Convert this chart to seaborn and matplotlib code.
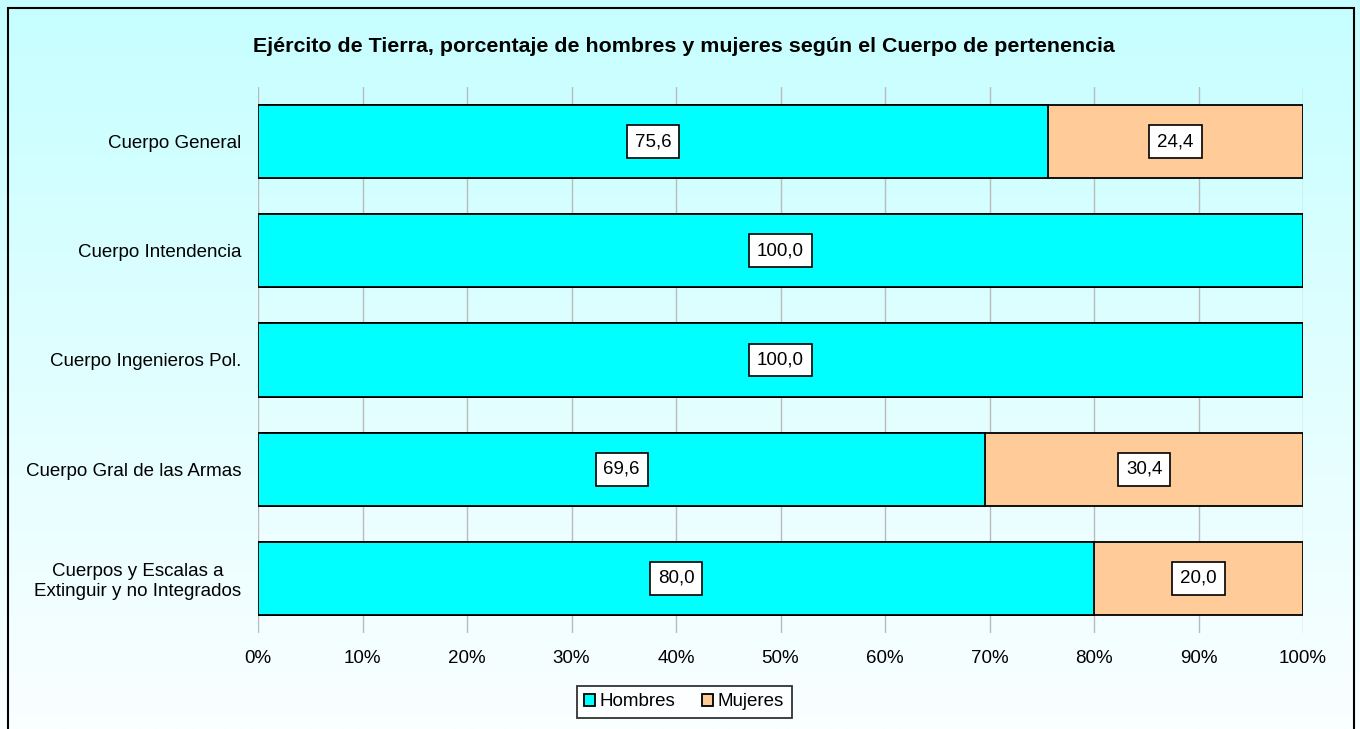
import numpy as np
import pandas as pd
import seaborn as sns
import matplotlib.pyplot as plt
from matplotlib.patches import Rectangle, Patch

# Data
categorias = ['Cuerpo General', 'Cuerpo Intendencia', 'Cuerpo Ingenieros Pol.',
              'Cuerpo Gral de las Armas', 'Cuerpos y Escalas a\nExtinguir y no Integrados']
hombres = [75.6, 100.0, 100.0, 69.6, 80.0]
mujeres = [24.4, 0.0, 0.0, 30.4, 20.0]
ticks_x = [0, 10, 20, 30, 40, 50, 60, 70, 80, 90, 100]

color_h = '#00FFFF'
color_m = '#FFCC99'

df = pd.DataFrame({'Cuerpo': categorias, 'Hombres': hombres, 'Mujeres': mujeres})
df['Total'] = df['Hombres'] + df['Mujeres']

sns.set_style('white')
plt.rcParams['font.family'] = ['Liberation Sans', 'DejaVu Sans']
plt.rcParams['text.color'] = 'black'
plt.rcParams['xtick.color'] = 'black'
plt.rcParams['ytick.color'] = 'black'

fig = plt.figure(figsize=(13.6, 7.29), dpi=100)

# gradient background
bg = fig.add_axes([0, 0, 1, 1], zorder=-10)
grad = np.linspace(0, 1, 256).reshape(-1, 1)
cmap = plt.matplotlib.colors.LinearSegmentedColormap.from_list('bg', ['#C6FEFF', '#FAFFFF'])
bg.imshow(grad, aspect='auto', cmap=cmap, extent=[0, 1, 0, 1], origin='upper')
bg.axis('off')
fig.patches.append(Rectangle((8 / 1360, -0.05), 1346 / 1360, 1.05 - 8 / 729,
                             transform=fig.transFigure, fill=False,
                             edgecolor='black', linewidth=1.5, zorder=5))

ax = fig.add_axes([258 / 1360, 96 / 729, 1045 / 1360, 546 / 729])
ax.patch.set_alpha(0)

sns.barplot(data=df, y='Cuerpo', x='Total', color=color_m, orient='h',
            edgecolor='black', linewidth=1.3, width=0.67, saturation=1, ax=ax)
sns.barplot(data=df, y='Cuerpo', x='Hombres', color=color_h, orient='h',
            edgecolor='black', linewidth=1.3, width=0.67, saturation=1, ax=ax)

box = dict(boxstyle='square,pad=0.42', facecolor='white', edgecolor='black', linewidth=1.2)
for i, (h, m) in enumerate(zip(hombres, mujeres)):
    ax.text(h / 2, i, f'{h:.1f}'.replace('.', ','), ha='center', va='center',
            fontsize=13.5, bbox=box, zorder=6)
    if m > 0:
        ax.text(h + m / 2, i, f'{m:.1f}'.replace('.', ','), ha='center', va='center',
                fontsize=13.5, bbox=box, zorder=6)

ax.set_xlim(0, 100)
ax.set_ylim(len(categorias) - 0.5, -0.5)
ax.set_xticks(ticks_x)
ax.set_xticklabels([f'{t}%' for t in ticks_x])
ax.xaxis.grid(True, color='#BBBBBB', linewidth=1)
ax.set_axisbelow(True)
ax.tick_params(axis='x', length=0, pad=12, labelsize=13.5)
ax.tick_params(axis='y', length=0, pad=12, labelsize=13.5)
for lab in ax.get_yticklabels():
    lab.set_multialignment('center')
ax.set_xlabel('')
ax.set_ylabel('')
for s in ax.spines.values():
    s.set_visible(False)

fig.text(0.503, 1 - 46 / 729,
         'Ejército de Tierra, porcentaje de hombres y mujeres según el Cuerpo de pertenencia',
         ha='center', va='center', fontsize=15.4, fontweight='bold')

handles = [Patch(facecolor=color_h, edgecolor='black', linewidth=1.3, label='Hombres'),
           Patch(facecolor=color_m, edgecolor='black', linewidth=1.3, label='Mujeres')]
leg = fig.legend(handles=handles, loc='center', bbox_to_anchor=(0.503, 1 - 702 / 729),
                 ncol=2, fontsize=13.5, frameon=True, fancybox=False,
                 handlelength=0.6, handleheight=0.6, handletextpad=0.25,
                 columnspacing=1.4, borderpad=0.4, borderaxespad=0)
leg.get_frame().set_edgecolor('black')
leg.get_frame().set_linewidth(1.3)
leg.get_frame().set_facecolor('white')

fig.savefig('out.png', dpi=100)
